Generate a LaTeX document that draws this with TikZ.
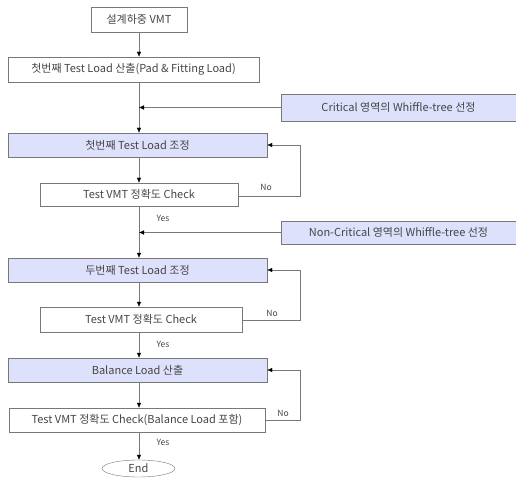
\documentclass[tikz,border=0pt]{standalone}
\usepackage{fontspec}
\setmainfont{Noto Sans CJK KR}
\usepackage{xcolor}
\usetikzlibrary{arrows.meta,shapes.geometric}
\definecolor{flowblue}{RGB}{221,225,251}
\definecolor{flowline}{RGB}{120,120,120}
\definecolor{flowtext}{RGB}{70,70,70}

\begin{document}
\begin{tikzpicture}[x=1pt,y=-1pt,
    box/.style={draw=flowline,fill=white,text=flowtext,inner sep=1pt,font=\fontsize{11}{13}\selectfont},
    bluebox/.style={box,fill=flowblue},
    arr/.style={draw=flowline,-{Latex[length=5pt,width=4.5pt,color=black]}},
    lbl/.style={text=flowtext,inner sep=0pt,font=\fontsize{8.5}{10}\selectfont}]
            \useasboundingbox (0,0) rectangle (516,478);
            % Main boxes
            \node[box,minimum width=96pt,minimum height=25pt] (vmt) at (139,19.5) {설계하중 VMT};
            \node[box,minimum width=251pt,minimum height=25pt] (load1) at (133.5,69.5) {첫번째 Test Load 산출(Pad \& Fitting Load)};
            \node[bluebox,minimum width=235pt,minimum height=27pt] (crit) at (398.5,107.5) {Critical 영역의 Whiffle-tree 선정};
            \node[bluebox,minimum width=259pt,minimum height=24pt] (adj1) at (137.5,145) {첫번째 Test Load 조정};
            \node[box,minimum width=198pt,minimum height=23pt] (chk1) at (139,194.5) {Test VMT 정확도 Check};
            \node[bluebox,minimum width=235pt,minimum height=23pt] (noncrit) at (398.5,232.5) {Non-Critical 영역의 Whiffle-tree 선정};
            \node[bluebox,minimum width=259pt,minimum height=24pt] (adj2) at (137.5,270) {두번째 Test Load 조정};
            \node[box,minimum width=202pt,minimum height=25pt] (chk2) at (141,319.5) {Test VMT 정확도 Check};
            \node[bluebox,minimum width=259pt,minimum height=24pt] (bal) at (137.5,370) {Balance Load 산출};
            \node[box,minimum width=256pt,minimum height=24pt] (chk3) at (137,420) {Test VMT 정확도 Check(Balance Load 포함)};
            \node[box,ellipse,minimum width=73pt,minimum height=17pt,inner sep=0pt] (end) at (138.5,468.5) {End};

            % Loop corners
            \coordinate (loop1) at (300,196);
            \coordinate (loop2) at (300,320);
            \coordinate (loop3) at (300,420);

            % Yes / No labels
            \node[lbl] (yes1) at (163,218) {Yes};
            \node[lbl] (yes2) at (163,344) {Yes};
            \node[lbl] (yes3) at (163,442) {Yes};
            \node[lbl] (no1) at (266,187) {No};
            \node[lbl] (no2) at (272,313) {No};
            \node[lbl] (no3) at (283,413) {No};

            % Arrows
            \draw[arr] (vmt.south) -- (vmt.south |- load1.north);
            \draw[arr] (vmt.south |- load1.south) -- (vmt.south |- adj1.north);
            \draw[arr] (crit.west) -- (crit.west -| vmt.south);
            \draw[arr] (vmt.south |- adj1.south) -- (vmt.south |- chk1.north);
            \draw[arr] (chk1.east |- loop1) -- (loop1) |- (adj1.east);
            \draw[arr] (vmt.south |- chk1.south) -- (vmt.south |- adj2.north);
            \draw[arr] (noncrit.west) -- (noncrit.west -| vmt.south);
            \draw[arr] (vmt.south |- adj2.south) -- (vmt.south |- chk2.north);
            \draw[arr] (chk2.east |- loop2) -- (loop2) |- (adj2.east);
            \draw[arr] (vmt.south |- chk2.south) -- (vmt.south |- bal.north);
            \draw[arr] (vmt.south |- bal.south) -- (vmt.south |- chk3.north);
            \draw[arr] (chk3.east |- loop3) -- (loop3) |- (bal.east);
            \draw[arr] (vmt.south |- chk3.south) -- (vmt.south |- end.north);
        \end{tikzpicture}
\end{document}
